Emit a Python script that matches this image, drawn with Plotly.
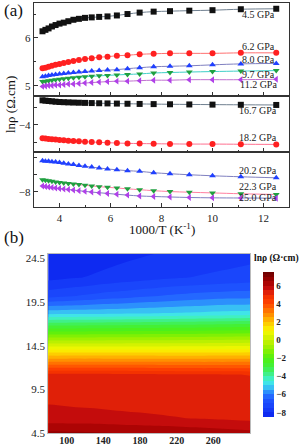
import plotly.graph_objects as go

# ---------------- data ----------------
temps = [300, 290, 280, 270, 260, 250, 240, 230, 220, 210, 200, 190, 180,
         170, 160, 150, 140, 130, 120, 110, 100, 90, 80]
inv_t = [1000.0 / t for t in temps]

pressures = [4.5, 6.2, 8.0, 9.7, 11.2, 16.7, 18.2, 20.2, 22.3, 25.0]
labels = ["4.5 GPa", "6.2 GPa", "8.0 GPa", "9.7 GPa", "11.2 GPa",
          "16.7 GPa", "18.2 GPa", "20.2 GPa", "22.3 GPa", "25.0 GPa"]

ln_4p5 = [6.14, 6.17, 6.20, 6.24, 6.27, 6.30, 6.32, 6.35, 6.38, 6.40, 6.42, 6.43,
          6.44, 6.45, 6.47, 6.50, 6.53, 6.55, 6.56, 6.57, 6.58, 6.60, 6.61]
ln_6p2 = [5.37, 5.38, 5.40, 5.42, 5.44, 5.46, 5.48, 5.50, 5.52, 5.54, 5.56, 5.58,
          5.60, 5.61, 5.63, 5.64, 5.66, 5.67, 5.68, 5.68, 5.68, 5.69, 5.69]
ln_8p0 = [5.19, 5.20, 5.22, 5.23, 5.24, 5.25, 5.26, 5.27, 5.28, 5.29, 5.30, 5.31,
          5.32, 5.33, 5.34, 5.36, 5.38, 5.40, 5.41, 5.42, 5.44, 5.46, 5.47]
ln_9p7 = [5.09, 5.10, 5.11, 5.12, 5.13, 5.14, 5.15, 5.16, 5.17, 5.18, 5.19, 5.20,
          5.21, 5.22, 5.23, 5.24, 5.25, 5.27, 5.28, 5.29, 5.30, 5.31, 5.32]
ln_11p2 = [4.99, 5.00, 5.01, 5.01, 5.02, 5.02, 5.03, 5.04, 5.04, 5.05, 5.06, 5.07,
           5.08, 5.09, 5.10, 5.10, 5.11, 5.12, 5.12, 5.13, 5.13, 5.13, 5.14]
ln_16p7 = [-2.58, -2.60, -2.62, -2.64, -2.66, -2.68, -2.69, -2.70, -2.71, -2.72, -2.73, -2.74,
           -2.75, -2.76, -2.77, -2.78, -2.79, -2.80, -2.81, -2.82, -2.83, -2.84, -2.85]
ln_18p2 = [-4.78, -4.80, -4.82, -4.84, -4.86, -4.88, -4.90, -4.92, -4.94, -4.96, -4.98, -5.00,
           -5.02, -5.04, -5.06, -5.08, -5.09, -5.10, -5.11, -5.12, -5.12, -5.13, -5.14]
ln_20p2 = [-6.18, -6.20, -6.21, -6.23, -6.25, -6.28, -6.32, -6.36, -6.40, -6.45, -6.50, -6.55,
           -6.60, -6.66, -6.71, -6.76, -6.80, -6.88, -6.94, -7.00, -7.06, -7.12, -7.18]
ln_22p3 = [-7.30, -7.33, -7.36, -7.39, -7.42, -7.45, -7.48, -7.51, -7.54, -7.58, -7.62, -7.66,
           -7.70, -7.74, -7.78, -7.83, -7.88, -7.94, -7.99, -8.03, -8.07, -8.12, -8.16]
ln_25p0 = [-7.66, -7.69, -7.72, -7.75, -7.78, -7.81, -7.84, -7.87, -7.90, -7.94, -7.98, -8.02,
           -8.06, -8.10, -8.15, -8.20, -8.25, -8.28, -8.31, -8.34, -8.36, -8.37, -8.38]

series = [ln_4p5, ln_6p2, ln_8p0, ln_9p7, ln_11p2,
          ln_16p7, ln_18p2, ln_20p2, ln_22p3, ln_25p0]

x_ticks_a = [4, 6, 8, 10, 12]
x_ticks_b = [100, 140, 180, 220, 260]
y_ticks_b = [4.5, 9.5, 14.5, 19.5, 24.5]
cbar_ticks = [-8, -6, -4, -2, 0, 2, 4, 6]

# ---------------- styles ----------------
SERIF = "Liberation Serif, Times New Roman, serif"
panel_of = [1, 1, 1, 1, 1, 2, 2, 3, 3, 3]
marker_sym = ["square", "circle", "triangle-up", "triangle-down", "triangle-left",
              "square", "circle", "triangle-up", "triangle-down", "triangle-left"]
marker_col = ["#111111", "#ff2020", "#2040ff", "#20a040", "#b040e8",
              "#111111", "#ff2020", "#2040ff", "#20a040", "#b040e8"]
line_col = ["#708090", "#ff7070", "#8080c0", "#40d0c8", "#c070d0",
            "#708090", "#ff7090", "#8080c0", "#ff80a0", "#8080c0"]
label_y_px = [15, 46.5, 59, 74, 84.5, 110, 137.5, 170, 186, 197]

fig = go.Figure()

for i, vals in enumerate(series):
    p = panel_of[i]
    xa = "x" if p == 1 else f"x{p}"
    ya = "y" if p == 1 else f"y{p}"
    fig.add_trace(go.Scatter(
        x=inv_t, y=vals, xaxis=xa, yaxis=ya, mode="lines+markers",
        line=dict(color=line_col[i], width=1, shape="spline"),
        marker=dict(symbol=marker_sym[i], color=marker_col[i], size=6,
                    line=dict(width=0)),
        showlegend=False, hoverinfo="skip"))

# heatmap grid: rows = pressures, columns = temperature ascending
t_asc = temps[::-1]
z = [s[::-1] for s in series]

colorscale_pts = [
    (-8.5, "#0a22ee"), (-7.5, "#1840fa"), (-6.5, "#2058ff"), (-6.0, "#2878ff"),
    (-5.5, "#30a8f8"), (-5.0, "#40d8f0"), (-4.5, "#40f0e0"), (-4.0, "#40f0a0"),
    (-3.0, "#40f040"), (-2.0, "#50f010"), (-1.0, "#90f000"), (0.0, "#c8f000"),
    (1.0, "#f8f800"), (2.0, "#ffc000"), (3.0, "#ff8000"), (4.0, "#ff4800"),
    (4.5, "#f83400"), (5.0, "#f03000"), (5.5, "#d01010"), (6.0, "#b80808"),
    (6.5, "#a00000"), (7.5, "#700000")]
zmin, zmax = -8.5, 7.5
colorscale = [[(v - zmin) / (zmax - zmin), c] for v, c in colorscale_pts]

fig.add_trace(go.Contour(
    x=t_asc, y=pressures, z=z, xaxis="x4", yaxis="y4",
    colorscale=colorscale, zmin=zmin, zmax=zmax, zauto=False,
    autocontour=False,
    contours=dict(start=-8.5, end=7.5, size=0.5, coloring="fill", showlines=False),
    line=dict(width=0),
    colorbar=dict(
        x=263 / 302, xanchor="left", y=1 - 344.5 / 446, yanchor="middle",
        xpad=0, ypad=0,
        len=145 / 446, lenmode="fraction", thickness=11, outlinewidth=0,
        tickvals=cbar_ticks, ticks="", ticklabelposition="outside",
        tickfont=dict(family=SERIF, size=9, color="#222", weight="bold"),
    ),
    hoverinfo="skip"))

xdom = [34 / 302, 289 / 302]
ax_common = dict(showline=True, linecolor="#333", linewidth=1.3, mirror=True,
                 ticks="inside", ticklen=4, tickcolor="#333", showgrid=False,
                 zeroline=False, automargin=False,
                 tickfont=dict(family=SERIF, size=11, color="#222"))

def ydom(top_px, bot_px):
    return [1 - bot_px / 446, 1 - top_px / 446]

minor_x = dict(dtick=1, tick0=3, ticks="inside", ticklen=2, tickcolor="#333")

fig.update_layout(
    width=302, height=446, margin=dict(l=0, r=0, t=0, b=0),
    paper_bgcolor="white", plot_bgcolor="white", template="none",
    showlegend=False,
    xaxis=dict(domain=xdom, anchor="y", range=[3, 13], tickvals=x_ticks_a,
               showticklabels=False, minor=minor_x, **ax_common),
    xaxis2=dict(domain=xdom, anchor="y2", range=[3, 13], matches="x", tickvals=x_ticks_a,
                showticklabels=False, minor=minor_x, **ax_common),
    xaxis3=dict(domain=xdom, anchor="y3", range=[3, 13], matches="x", tickvals=x_ticks_a,
                minor=minor_x, **ax_common),
    yaxis=dict(domain=ydom(3, 96), anchor="x", range=[4.79, 6.73], tickvals=[5, 6],
               minor=dict(tickvals=[5.5, 6.5], ticks="inside", ticklen=2, tickcolor="#333"),
               **ax_common),
    yaxis2=dict(domain=ydom(96, 152), anchor="x2", range=[-5.58, -2.33], tickvals=[-4],
                minor=dict(tickvals=[-5, -3], ticks="inside", ticklen=3, tickcolor="#333"),
                **ax_common),
    yaxis3=dict(domain=ydom(152, 207), anchor="x3", range=[-8.9, -5.66], tickvals=[-8],
                minor=dict(tickvals=[-7, -6], ticks="inside", ticklen=3, tickcolor="#333"),
                **ax_common),
    xaxis4=dict(domain=[48.3 / 302, 250 / 302], anchor="y4", range=[80, 300],
                tickvals=x_ticks_b, showline=True, linecolor="#bbb", linewidth=1, mirror=True,
                ticks="", showgrid=False, zeroline=False, automargin=False,
                ticklabelstandoff=-2,
                tickfont=dict(family=SERIF, size=10, color="#222", weight="bold")),
    yaxis4=dict(domain=ydom(254, 433), anchor="x4", range=[4.5, 25.0],
                tickvals=y_ticks_b, tickformat=".1f", showline=True, linecolor="#bbb",
                linewidth=1, mirror=True, ticks="", showgrid=False, zeroline=False,
                automargin=False,
                tickfont=dict(family=SERIF, size=11, color="#222")),
)

annos = []
for i, lab in enumerate(labels):
    annos.append(dict(x=258 / 302, y=1 - label_y_px[i] / 446, xref="paper", yref="paper",
                      text=lab, showarrow=False, xanchor="center", yanchor="middle",
                      font=dict(family=SERIF, size=10, color="#222")))
annos += [
    dict(x=2 / 302, y=1 - 11 / 446, xref="paper", yref="paper", text="(a)", showarrow=False,
         xanchor="left", yanchor="middle", font=dict(family=SERIF, size=17, color="#111")),
    dict(x=2 / 302, y=1 - 237 / 446, xref="paper", yref="paper", text="(b)", showarrow=False,
         xanchor="left", yanchor="middle", font=dict(family=SERIF, size=17, color="#111")),
    dict(x=162 / 302, y=1 - 229 / 446, xref="paper", yref="paper", text="1000/T (K<sup>-1</sup>)",
         showarrow=False, xanchor="center", yanchor="middle",
         font=dict(family=SERIF, size=13, color="#111")),
    dict(x=10 / 302, y=1 - 105 / 446, xref="paper", yref="paper", text="lnρ (Ω.cm)",
         showarrow=False, textangle=-90, xanchor="center", yanchor="middle",
         font=dict(family=SERIF, size=13, color="#111")),
    dict(x=301 / 302, y=1 - 258 / 446, xref="paper", yref="paper", text="<b>lnρ (Ω·cm)</b>",
         showarrow=False, xanchor="right", yanchor="middle",
         font=dict(family=SERIF, size=9.5, color="#111")),
]
fig.update_layout(annotations=annos)

fig.write_html("out.html", config={"displayModeBar": False, "staticPlot": True},
               post_script="document.body.style.margin='0';document.body.style.overflow='hidden';")
